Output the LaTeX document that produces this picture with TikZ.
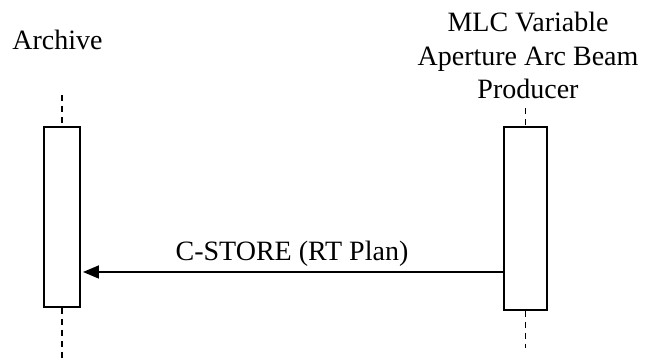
\documentclass[tikz,border=0pt]{standalone}
\usepackage{fontspec}
\setmainfont{Liberation Serif}
\usepackage{tikz}
\usetikzlibrary{arrows.meta,positioning}
\tikzset{
    ativacao/.style={
        rectangle,
        draw,
        line width=1pt,
        fill=white,
        inner sep=0pt
    },
    rotulo/.style={align=center, inner sep=0pt, font=\fontsize{14}{16.75}\selectfont},
    vida/.style={line width=0.9pt, dash pattern=on 3pt off 2.5pt},
    mensagem/.style={-{Triangle[length=8pt,width=6.5pt]}, line width=0.9pt, shorten >=1pt}
}

\begin{document}
\begin{tikzpicture}[
        x=0.5pt, y=-0.5pt,
        every node/.style={font=\fontsize{14}{16.75}\selectfont}
    ]
        \useasboundingbox (0,0) rectangle (645,362);

        % participantes
        \node[rotulo, anchor=base] (archive) at (57.5,50) {Archive};
        \node[rotulo, anchor=north] (producer) at (528,12) {MLC Variable\\Aperture Arc Beam\\Producer};

        % barras de ativacao
        \node[ativacao, minimum width=18pt, minimum height=90pt] (arq) at (62,217) {};
        \node[ativacao, minimum width=21.5pt, minimum height=91.5pt] (prod) at (525.5,218.5) {};

        % linhas de vida
        \coordinate (arqTopo) at (62,95);
        \coordinate (arqFim) at (62,362);
        \coordinate (prodTopo) at (525.5,108);
        \coordinate (prodFim) at (525.5,348);
        \draw[vida] (arqTopo) -- (arq.north);
        \draw[vida] (arq.south) -- (arqFim);
        \draw[vida] (prodTopo) -- (prod.north);
        \draw[vida] (prod.south) -- (prodFim);

        % mensagem
        \coordinate (msg) at (0,272);
        \draw[mensagem] (prod.west |- msg) -- node[above=2.5pt, inner sep=0pt] (cstore) {C-STORE (RT Plan)} (arq.east |- msg);
    \end{tikzpicture}
\end{document}
